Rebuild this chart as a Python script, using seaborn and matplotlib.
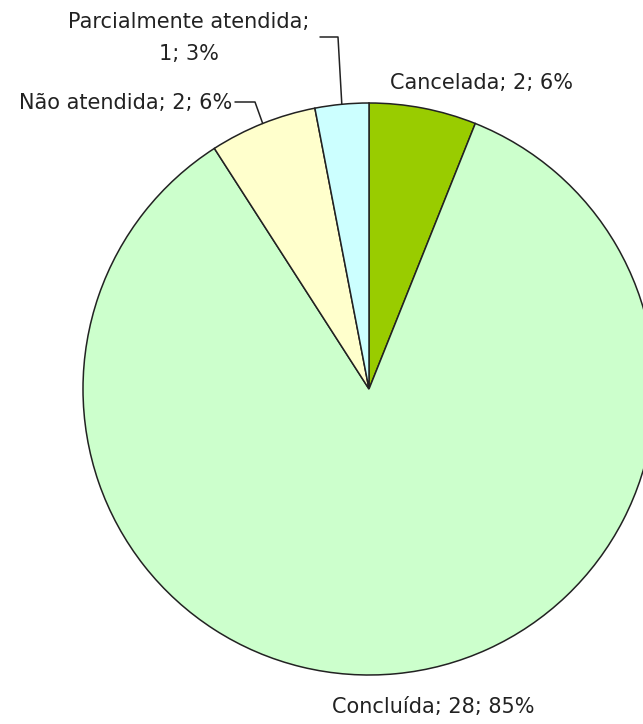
import numpy as np
import seaborn as sns
import matplotlib.pyplot as plt

sns.set_theme(style="white")
plt.rcParams['font.family'] = ['DejaVu Sans']

# dados
categorias = ["Cancelada", "Concluída", "Não atendida", "Parcialmente atendida"]
valores = [2, 28, 2, 1]
percentuais = [6, 85, 6, 3]
cores = ["#99CC00", "#CCFFCC", "#FFFFCC", "#CCFFFF"]

W, H = 643, 724
fig = plt.figure(figsize=(W / 100, H / 100), dpi=100)
ax = fig.add_axes([0, 0, 1, 1])

cx, cy, r = 369, H - 389, 286
wedges, _ = ax.pie(valores, colors=cores, startangle=90, counterclock=False,
                   radius=r, center=(cx, cy), frame=True,
                   wedgeprops=dict(edgecolor="#222222", linewidth=1.1))
ax.set_xlim(0, W)
ax.set_ylim(0, H)
ax.set_aspect("equal")
ax.axis("off")

rotulos = [f"{c}; {v}; {p}%" for c, v, p in zip(categorias, valores, percentuais)]
rotulos[3] = f"{categorias[3]};\n{valores[3]}; {percentuais[3]}%"

def ponto_borda(w):
    a = np.deg2rad((w.theta1 + w.theta2) / 2)
    return cx + r * np.cos(a), cy + r * np.sin(a)

fs = 15
cor_txt = "#222222"
ax.text(390, H - 83, rotulos[0], fontsize=fs, color=cor_txt, ha="left", va="center")
ax.text(433, H - 707, rotulos[1], fontsize=fs, color=cor_txt, ha="center", va="center")
ax.text(232, H - 103, rotulos[2], fontsize=fs, color=cor_txt, ha="right", va="center")
ax.text(189, H - 38, rotulos[3], fontsize=fs, color=cor_txt, ha="center", va="center",
        linespacing=1.75)

# linhas de chamada
px, py = ponto_borda(wedges[3])
ax.plot([320, 338, px], [H - 37, H - 37, py], color="#222222", lw=1.1)
px, py = ponto_borda(wedges[2])
ax.plot([235, 255, px], [H - 102, H - 102, py], color="#222222", lw=1.1)

fig.savefig("out.png", dpi=100)
